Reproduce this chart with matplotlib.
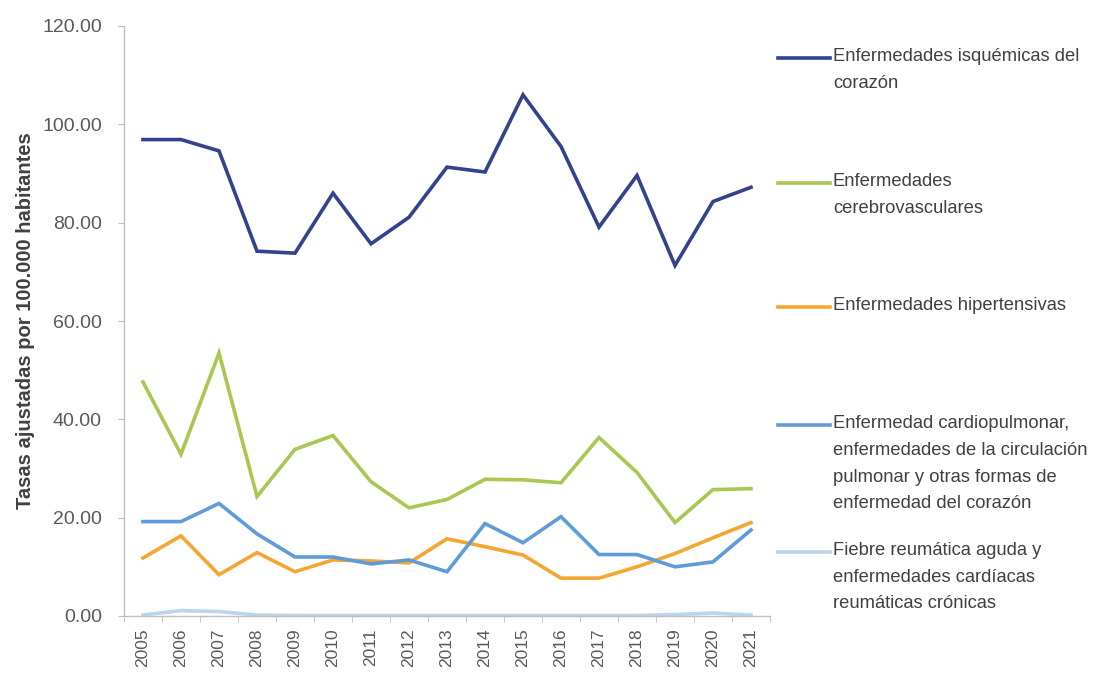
import matplotlib
matplotlib.use('Agg')
import matplotlib.pyplot as plt
from matplotlib.lines import Line2D
import numpy as np

# datos
years = [str(y) for y in range(2005, 2022)]

isquemicas = [96.9, 96.9, 94.6, 74.2, 73.8, 86.0, 75.7, 81.1, 91.3, 90.3, 106.0,
              95.5, 79.1, 89.6, 71.3, 84.3, 87.2]
cerebro = [47.6, 32.9, 53.5, 24.3, 33.9, 36.7, 27.3, 22.0, 23.7, 27.8, 27.7,
           27.1, 36.3, 29.2, 19.0, 25.7, 25.9]
hipertensivas = [11.8, 16.3, 8.4, 12.9, 9.0, 11.4, 11.2, 10.8, 15.7, 14.1, 12.4,
                 7.7, 7.7, 10.0, 12.7, 15.9, 19.0]
cardiopulmonar = [19.2, 19.2, 22.9, 16.7, 12.0, 12.0, 10.6, 11.4, 9.0, 18.8, 14.9,
                  20.2, 12.5, 12.5, 10.0, 11.0, 17.5]
fiebre = [0.2, 1.1, 0.9, 0.2, 0.1, 0.1, 0.1, 0.1, 0.1, 0.1, 0.1,
          0.1, 0.1, 0.1, 0.3, 0.6, 0.2]

series = [
    (isquemicas, '#33428a', 'Enfermedades isquémicas del\ncorazón'),
    (cerebro, '#a9c751', 'Enfermedades\ncerebrovasculares'),
    (hipertensivas, '#f5a631', 'Enfermedades hipertensivas'),
    (cardiopulmonar, '#5f9bd8', 'Enfermedad cardiopulmonar,\nenfermedades de la circulación\n'
                                'pulmonar y otras formas de\nenfermedad del corazón'),
    (fiebre, '#bcd5ee', 'Fiebre reumática aguda y\nenfermedades cardíacas\nreumáticas crónicas'),
]

plt.rcParams['font.family'] = ['Liberation Sans', 'DejaVu Sans']

W, H = 1096, 677
fig = plt.figure(figsize=(W / 100, H / 100), dpi=100)
ax = fig.add_axes([124 / W, 1 - 616 / H, (770 - 124) / W, (616 - 26) / H])

x = np.arange(len(years))
for vals, col, lab in series:
    ax.plot(x, vals, color=col, lw=2.6, solid_joinstyle='miter')

ax.set_xlim(-0.5, len(years) - 0.5)
ax.set_ylim(0, 120)
ax.set_yticks(np.arange(0, 121, 20))
ax.set_yticklabels([f'{v:.2f}' for v in np.arange(0, 121, 20)], fontsize=14, color='#595959')
ax.set_xticks(x)
ax.set_xticklabels(years, rotation=90, fontsize=12.5, color='#595959')
ax.set_xticks(np.arange(-0.5, len(years)), minor=True)
ax.tick_params(axis='x', which='major', length=0, pad=9)
ax.tick_params(axis='x', which='minor', length=4, color='#bfbfbf')
ax.tick_params(axis='y', length=4, color='#bfbfbf', pad=12)

for s in ['top', 'right']:
    ax.spines[s].set_visible(False)
for s in ['left', 'bottom']:
    ax.spines[s].set_color('#bfbfbf')
    ax.spines[s].set_linewidth(1)

ax.set_ylabel('Tasas ajustadas por 100.000 habitantes', fontsize=14.5,
              fontweight='bold', color='#404040')
ax.yaxis.set_label_coords(-0.138, 0.5)

# leyenda manual
leg_y = [58, 183, 307, 425, 552]
for (vals, col, lab), yp in zip(series, leg_y):
    fy = 1 - yp / H
    fig.add_artist(Line2D([778 / W, 830 / W], [fy, fy], color=col, lw=2.6,
                          transform=fig.transFigure))
    fig.text(833 / W, fy + 10 / H, lab, fontsize=13.2, color='#404040', va='top',
             ha='left', linespacing=1.75)

fig.savefig('out.png', dpi=100)
